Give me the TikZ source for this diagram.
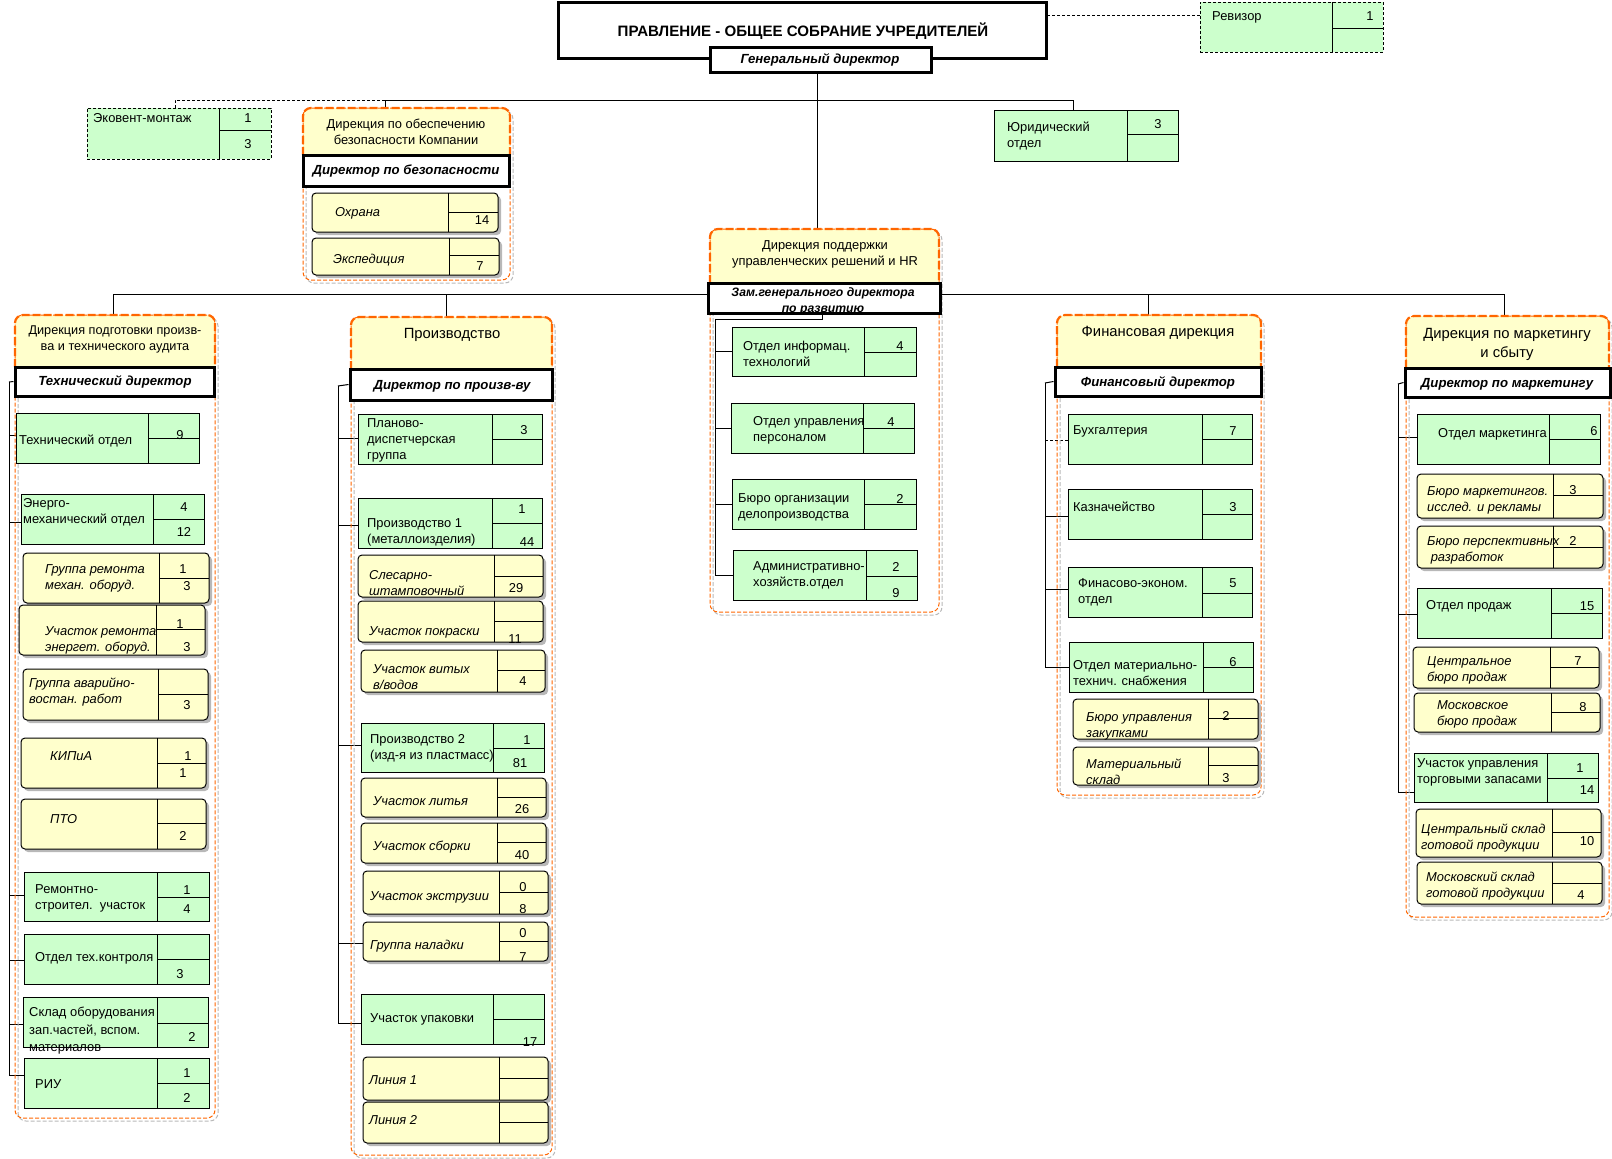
\documentclass[tikz,border=0pt]{standalone}
\usepackage{fontspec}
\setmainfont{Liberation Sans}
\usetikzlibrary{fit,shadows,backgrounds}
\definecolor{gfill}{HTML}{CCFFCC}
\definecolor{yfill}{HTML}{FFFFCC}
\definecolor{org}{HTML}{FF6600}
\definecolor{shd}{HTML}{B8B8B8}
\newcommand\fs{\fontsize{12.9}{16}\selectfont}
\newcommand\fsd{\fontsize{13.2}{16}\selectfont}
\newcommand\fsh{\fontsize{14.8}{19}\selectfont}
\tikzset{
  gbox/.style={draw=black, fill=gfill, line width=1pt, inner sep=0pt},
  gdbox/.style={gbox, dash pattern=on 3pt off 2pt},
  ybox/.style={draw=black, fill=yfill, line width=1pt, inner sep=0pt, rounded corners=4pt,
     drop shadow={shadow xshift=3pt, shadow yshift=-3pt, fill=shd, opacity=1}},
  dirbox/.style={draw=black, fill=white, line width=3pt, inner sep=0pt},
  divl/.style={line width=1pt},
  conn/.style={line width=1pt},
  dconn/.style={line width=1pt, dash pattern=on 3pt off 2pt},
  lt/.style={anchor=west, align=left, inner sep=0pt, font=\fs},
  ilt/.style={anchor=west, align=left, inner sep=0pt, font=\fs\itshape},
  num/.style={inner sep=0pt, font=\fs},
  dtxt/.style={inner sep=0pt, align=center, font=\fsd\bfseries\itshape},
  htxt/.style={inner sep=0pt, align=center, font=\fs},
  hhtxt/.style={inner sep=0pt, align=center, font=\fsh},
  cshadow/.style={draw=shd, line width=1pt, dash pattern=on 4pt off 2pt, rounded corners=8pt},
  cborder/.style={draw=org, line width=1pt, dash pattern=on 4pt off 2pt, rounded corners=8pt, inner sep=0pt},
  chead/.style={draw=org, line width=2.2pt, dash pattern=on 8pt off 3pt, rounded corners=8pt},
}
% box with divider: name, style, x1, y1, x2, y2, xdiv, ysplit
\newcommand\obox[8]{%
  \node[#2, fit={(#3,#4) (#5,#6)}] (#1) {};
  \draw[divl] (#7,#4) -- (#7,#6) (#7,#8) -- (#5,#8);
}
% container: name, x1, y1, x2, y2, y of director top
\newcommand\ocont[6]{%
  \draw[cshadow] (#2+3,#3+3) rectangle (#4+3,#5+3);
  \fill[yfill, rounded corners=8pt] (#2,#3) rectangle (#4,#6+10);
  \node[cborder, fit={(#2,#3) (#4,#5)}] (#1) {};
  \draw[chead] (#2,#6) -- (#2,#3) -- (#4,#3) -- (#4,#6);
}
\begin{document}
\begin{tikzpicture}[x=1pt,y=-1pt]
\useasboundingbox (0,0) rectangle (1612,1159);

% ---------- top ----------
\node[draw=black, fill=white, line width=3pt, inner sep=0pt, fit={(558,2) (1046,58)}] (board) {};
\node[inner sep=0pt, font=\fontsize{15.1}{17}\selectfont\bfseries] (boardt) at (803,31) {ПРАВЛЕНИЕ - ОБЩЕЕ СОБРАНИЕ УЧРЕДИТЕЛЕЙ};
\node[dirbox, fit={(710,47) (931,72)}] (gd) {};
\node[dtxt] (gdt) at (820,60) {Генеральный директор};

\obox{rev}{gdbox}{1200}{2}{1383}{52}{1332}{28}
\node[lt] (revt) at (1212,17) {Ревизор};
\node[num] (revn) at (1370,16) {1};

\obox{ekv}{gdbox}{87}{108}{271}{159}{219}{130}
\node[lt] (ekvt) at (93,118) {Эковент-монтаж};
\node[num] (ekvn1) at (248,118) {1};
\node[num] (ekvn2) at (248,144) {3};

\obox{jur}{gbox}{994}{110}{1178}{161}{1127}{134}
\node[lt] (jurt) at (1007,135.5) {Юридический\\отдел};
\node[num] (jurn) at (1158,124) {3};

% ---------- security ----------
\ocont{sec}{303}{108}{510}{280}{155}
\node[htxt] (sect) at (406,132) {Дирекция по обеспечению\\безопасности Компании};
\node[dirbox, fit={(303,155) (509,186)}] (secd) {};
\node[dtxt] (secdt) at (406,171) {Директор по безопасности};
\obox{ohr}{ybox}{312}{193}{498}{232}{448}{212}
\node[ilt] (ohrt) at (335,213) {Охрана};
\node[num] (ohrn) at (482,220) {14};
\obox{exped}{ybox}{312}{238}{499}{275}{449}{255}
\node[ilt] (expt) at (333,260) {Экспедиция};
\node[num] (expn) at (480,266) {7};

% ---------- HR ----------
\ocont{hr}{710}{229}{939}{612}{283}
\node[htxt] (hrt) at (825,254.5) {Дирекция поддержки\\управленческих решений и HR};
\node[dirbox, fit={(708,283) (940,313)}] (hrd) {};
\node[dtxt, font=\fontsize{12.2}{16}\selectfont\bfseries\itshape] (hrdt) at (823,301) {Зам.генерального директора\\по развитию};
\obox{h1}{gbox}{732}{327}{916}{376}{864}{352}
\node[lt] (h1t) at (743,354) {Отдел информац.\\технологий};
\node[num] (h1n) at (900,346) {4};
\obox{h2}{gbox}{731}{403}{914}{453}{863}{428}
\node[lt] (h2t) at (753,430) {Отдел управления\\персоналом};
\node[num] (h2n) at (891,422) {4};
\obox{h3}{gbox}{732}{479}{916}{529}{864}{504}
\node[lt] (h3t) at (738,507.5) {Бюро организации\\делопроизводства};
\node[num] (h3n) at (900,499) {2};
\obox{h4}{gbox}{733}{550}{917}{600}{866}{576}
\node[lt] (h4t) at (753,575) {Административно-\\хозяйств.отдел};
\node[num] (h4n1) at (896,567) {2};
\node[num] (h4n2) at (896,593) {9};

% ---------- technical ----------
\ocont{tc}{15}{315}{215}{1118}{367}
\node[htxt, font=\fontsize{12.7}{15.5}\selectfont] (tct) at (115,339.5) {Дирекция подготовки произв-\\ва и технического аудита};
\node[dirbox, fit={(15,367) (214,396)}] (tcd) {};
\node[dtxt] (tcdt) at (115,382) {Технический директор};
\obox{t1}{gbox}{16}{413}{199}{463}{148}{438}
\node[lt] (t1t) at (19,441) {Технический отдел};
\node[num] (t1n) at (180,435) {9};
\obox{t2}{gbox}{21}{494}{204}{544}{153}{519}
\node[lt] (t2t) at (23,512) {Энерго-\\механический отдел};
\node[num] (t2n1) at (184,507) {4};
\node[num] (t2n2) at (184,532) {12};
\obox{t3}{ybox}{23}{553}{209}{603}{159}{578}
\node[ilt] (t3t) at (45,578) {Группа ремонта\\механ. оборуд.};
\node[num] (t3n1) at (183,569) {1};
\node[num] (t3n2) at (187,586) {3};
\obox{t4}{ybox}{19}{605}{205}{655}{156}{629}
\node[ilt] (t4t) at (45,640.5) {Участок ремонта\\энергет. оборуд.};
\node[num] (t4n1) at (180,624) {1};
\node[num] (t4n2) at (187,647) {3};
\obox{t5}{ybox}{23}{669}{208}{720}{158}{694}
\node[ilt] (t5t) at (29,692.5) {Группа аварийно-\\востан. работ};
\node[num] (t5n) at (187,705) {3};
\obox{t6}{ybox}{21}{738}{206}{788}{157}{763}
\node[ilt] (t6t) at (50,756) {КИПиА};
\node[num] (t6n1) at (188,756) {1};
\node[num] (t6n2) at (183,773) {1};
\obox{t7}{ybox}{21}{799}{206}{849}{157}{823}
\node[ilt] (t7t) at (50,819) {ПТО};
\node[num] (t7n) at (183,836) {2};
\obox{t8}{gbox}{24}{872}{209}{921}{157}{897}
\node[lt] (t8t) at (35,898.5) {Ремонтно-\\строител.\ \ участок};
\node[num] (t8n1) at (187,890) {1};
\node[num] (t8n2) at (187,909) {4};
\obox{t9}{gbox}{24}{934}{209}{984}{157}{959}
\node[lt] (t9t) at (35,958) {Отдел тех.контроля};
\node[num] (t9n) at (180,974) {3};
\obox{t10}{gbox}{23}{997}{208}{1047}{157}{1023}
\node[lt, font=\fontsize{12.9}{17.5}\selectfont] (t10t) at (29,1031) {Склад оборудования\\зап.частей, вспом.\\материалов};
\node[num] (t10n) at (192,1037) {2};
\obox{t11}{gbox}{24}{1058}{209}{1108}{157}{1083}
\node[lt] (t11t) at (35,1084) {РИУ};
\node[num] (t11n1) at (187,1073) {1};
\node[num] (t11n2) at (187,1098) {2};

% ---------- production ----------
\ocont{pr}{351}{317}{552}{1155}{369}
\node[hhtxt] (prt) at (452,335) {Производство};
\node[dirbox, fit={(350,369) (552,400)}] (prd) {};
\node[dtxt] (prdt) at (452,386) {Директор по произв-ву};
\obox{p1}{gbox}{358}{414}{542}{464}{492}{439}
\node[lt] (p1t) at (367,440.5) {Планово-\\диспетчерская\\группа};
\node[num] (p1n) at (524,430) {3};
\obox{p2}{gbox}{358}{498}{542}{548}{492}{523}
\node[lt] (p2t) at (367,532) {Производство 1\\(металлоизделия)};
\node[num] (p2n1) at (522,509) {1};
\node[num] (p2n2) at (527,542) {44};
\obox{p3}{ybox}{358}{555}{543}{597}{494}{576}
\node[ilt] (p3t) at (369,583.5) {Слесарно-\\штамповочный};
\node[num] (p3n) at (516,588) {29};
\obox{p4}{ybox}{358}{601}{543}{642}{494}{621}
\node[ilt] (p4t) at (369,632) {Участок покраски};
\node[num] (p4n) at (515,639) {11};
\obox{p5}{ybox}{361}{650}{545}{692}{497}{670}
\node[ilt] (p5t) at (373,677) {Участок витых\\в/водов};
\node[num] (p5n) at (523,681) {4};
\obox{p6}{gbox}{361}{723}{544}{772}{493}{748}
\node[lt] (p6t) at (370,748.5) {Производство 2\\(изд-я из пластмасс)};
\node[num] (p6n1) at (527,740) {1};
\node[num] (p6n2) at (520,763) {81};
\obox{p7}{ybox}{361}{778}{546}{817}{497}{797}
\node[ilt] (p7t) at (373,801) {Участок литья};
\node[num] (p7n) at (522,809) {26};
\obox{p8}{ybox}{361}{823}{546}{863}{497}{842}
\node[ilt] (p8t) at (373,847) {Участок сборки};
\node[num] (p8n) at (522,855) {40};
\obox{p9}{ybox}{363}{871}{548}{914}{499}{892}
\node[ilt] (p9t) at (370,897) {Участок экструзии};
\node[num] (p9n1) at (523,887) {0};
\node[num] (p9n2) at (523,909) {8};
\obox{p10}{ybox}{363}{922}{548}{961}{499}{941}
\node[ilt] (p10t) at (370,946) {Группа наладки};
\node[num] (p10n1) at (523,933) {0};
\node[num] (p10n2) at (523,957) {7};
\obox{p11}{gbox}{361}{994}{544}{1044}{493}{1019}
\node[lt] (p11t) at (370,1019) {Участок упаковки};
\node[num] (p11n) at (530,1042) {17};
\obox{p12}{ybox}{363}{1057}{548}{1100}{499}{1078}
\node[ilt] (p12t) at (369,1080) {Линия 1};
\obox{p13}{ybox}{363}{1102}{548}{1143}{499}{1122}
\node[ilt] (p13t) at (369,1120) {Линия 2};

% ---------- finance ----------
\ocont{fn}{1057}{315}{1261}{795}{367}
\node[hhtxt] (fnt) at (1158,333) {Финансовая дирекция};
\node[dirbox, fit={(1055,367) (1261,396)}] (fnd) {};
\node[dtxt] (fndt) at (1158,383) {Финансовый директор};
\obox{f1}{gbox}{1068}{414}{1252}{464}{1202}{439}
\node[lt] (f1t) at (1073,431) {Бухгалтерия};
\node[num] (f1n) at (1233,431) {7};
\obox{f2}{gbox}{1068}{489}{1252}{539}{1202}{514}
\node[lt] (f2t) at (1073,507) {Казначейство};
\node[num] (f2n) at (1233,507) {3};
\obox{f3}{gbox}{1068}{567}{1252}{617}{1202}{593}
\node[lt] (f3t) at (1078,592.5) {Финасово-эконом.\\отдел};
\node[num] (f3n) at (1233,583) {5};
\obox{f4}{gbox}{1069}{642}{1253}{692}{1203}{667}
\node[lt] (f4t) at (1073,673.5) {Отдел материально-\\технич. снабжения};
\node[num] (f4n) at (1233,662) {6};
\obox{f5}{ybox}{1073}{699}{1258}{739}{1208}{718}
\node[ilt] (f5t) at (1086,726) {Бюро управления\\закупками};
\node[num] (f5n) at (1226,716) {2};
\obox{f6}{ybox}{1073}{747}{1258}{785}{1208}{765}
\node[ilt] (f6t) at (1086,772) {Материальный\\склад};
\node[num] (f6n) at (1226,778) {3};

% ---------- marketing ----------
\ocont{mk}{1406}{316}{1609}{917}{368}
\node[hhtxt] (mkt) at (1507,344.5) {Дирекция по маркетингу\\и сбыту};
\node[dirbox, fit={(1405,368) (1610,397)}] (mkd) {};
\node[dtxt] (mkdt) at (1507,384) {Директор по маркетингу};
\obox{m1}{gbox}{1417}{414}{1600}{464}{1549}{439}
\node[lt] (m1t) at (1438,434) {Отдел маркетинга};
\node[num] (m1n) at (1594,431) {6};
\obox{m2}{ybox}{1417}{474}{1603}{518}{1553}{495}
\node[ilt] (m2t) at (1427,500.5) {Бюро маркетингов.\\исслед. и рекламы};
\node[num] (m2n) at (1573,490) {3};
\obox{m3}{ybox}{1417}{526}{1603}{568}{1553}{547}
\node[ilt] (m3t) at (1427,550.5) {Бюро перспективных\\\ разработок};
\node[num] (m3n) at (1573,541) {2};
\obox{m4}{gbox}{1417}{588}{1602}{638}{1551}{613}
\node[lt] (m4t) at (1426,606) {Отдел продаж};
\node[num] (m4n) at (1587,606) {15};
\obox{m5}{ybox}{1413}{647}{1599}{688}{1550}{667}
\node[ilt] (m5t) at (1427,670.5) {Центральное\\бюро продаж};
\node[num] (m5n) at (1578,661) {7};
\obox{m6}{ybox}{1414}{693}{1600}{732}{1551}{712}
\node[ilt] (m6t) at (1437,714.5) {Московское\\бюро продаж};
\node[num] (m6n) at (1583,707) {8};
\obox{m7}{gbox}{1414}{753}{1598}{802}{1547}{778}
\node[lt] (m7t) at (1417,772.5) {Участок управления\\торговыми запасами};
\node[num] (m7n1) at (1580,768) {1};
\node[num] (m7n2) at (1587,790) {14};
\obox{m8}{ybox}{1416}{809}{1601}{857}{1552}{832}
\node[ilt] (m8t) at (1421,838.5) {Центральный склад\\готовой продукции};
\node[num] (m8n) at (1587,841) {10};
\obox{m9}{ybox}{1417}{862}{1602}{904}{1552}{883}
\node[ilt] (m9t) at (1426,886) {Московский склад\\готовой продукции};
\node[num] (m9n) at (1581,895) {4};

% ---------- connectors (behind) ----------
\begin{pgfonlayer}{background}
\coordinate (revc) at (1047,15);
\draw[dconn] (revc) -- (revc -| rev.west);
\coordinate (gdv) at (817,100);
\draw[conn] (gdv |- gd.south) -- (gdv |- hr.north);
\coordinate (tb1) at (385,100);
\coordinate (tb2) at (1073,100);
\coordinate (tbe) at (175,100);
\draw[conn] (tb1) -- (tb2);
\draw[conn] (tb1) -- (tb1 |- sec.north);
\draw[conn] (tb2) -- (tb2 |- jur.north);
\draw[dconn] (tb1) -- (tbe) -- (tbe |- ekv.north);
% main bus
\coordinate (d1) at (113,294);
\coordinate (d2) at (446,294);
\coordinate (d3) at (1148,294);
\coordinate (d4) at (1504,294);
\draw[conn] (d1) -- (d4);
\draw[conn] (d1) -- (d1 |- tc.north);
\draw[conn] (d2) -- (d2 |- pr.north);
\draw[conn] (d3) -- (d3 |- fn.north);
\draw[conn] (d4) -- (d4 |- mk.north);
% HR bus
\coordinate (hb0) at (822,319);
\coordinate (hb1) at (715,319);
\draw[conn] (hb0 |- hrd.south) -- (hb0) -- (hb1) -- (hb1 |- h4.west);
\foreach \b in {h1,h2,h3,h4} \draw[conn] (hb1 |- \b.west) -- (\b.west);
% technical bus
\coordinate (tbt) at (9,382);
\coordinate (tbb) at (9,1075);
\draw[conn] (tbt) -- (tbb);
\draw[conn] (tbt) -- (tcd.west);
\foreach \b/\y in {t1/435,t2/522,t8/895,t9/960,t10/1024,t11/1075}{
  \coordinate (tcb-\b) at (9,\y);
  \draw[conn] (tcb-\b) -- (tcb-\b -| \b.west);}
% production bus
\coordinate (pbt) at (338,386);
\coordinate (pbb) at (338,1023);
\draw[conn] (pbt) -- (pbb);
\draw[conn] (pbt) -- (prd.west);
\foreach \b/\y in {p1/438,p2/525,p6/745,p10/943,p11/1023}{
  \coordinate (prb-\b) at (338,\y);
  \draw[conn] (prb-\b) -- (prb-\b -| \b.west);}
% finance bus
\coordinate (fbt) at (1045,383);
\coordinate (fbb) at (1045,667);
\draw[conn] (fbt) -- (fbb);
\draw[conn] (fbt) -- (fnd.west);
\coordinate (fnb-f1) at (1045,440);
\draw[dconn] (fnb-f1) -- (fnb-f1 -| f1.west);
\foreach \b/\y in {f2/516,f3/589,f4/667}{
  \coordinate (fnb-\b) at (1045,\y);
  \draw[conn] (fnb-\b) -- (fnb-\b -| \b.west);}
% marketing bus
\coordinate (mbt) at (1398,384);
\coordinate (mbb) at (1398,792);
\draw[conn] (mbt) -- (mbb);
\draw[conn] (mbt) -- (mkd.west);
\foreach \b/\y in {m1/437,m4/614,m7/792}{
  \coordinate (mkb-\b) at (1398,\y);
  \draw[conn] (mkb-\b) -- (mkb-\b -| \b.west);}
\end{pgfonlayer}
\end{tikzpicture}
\end{document}
